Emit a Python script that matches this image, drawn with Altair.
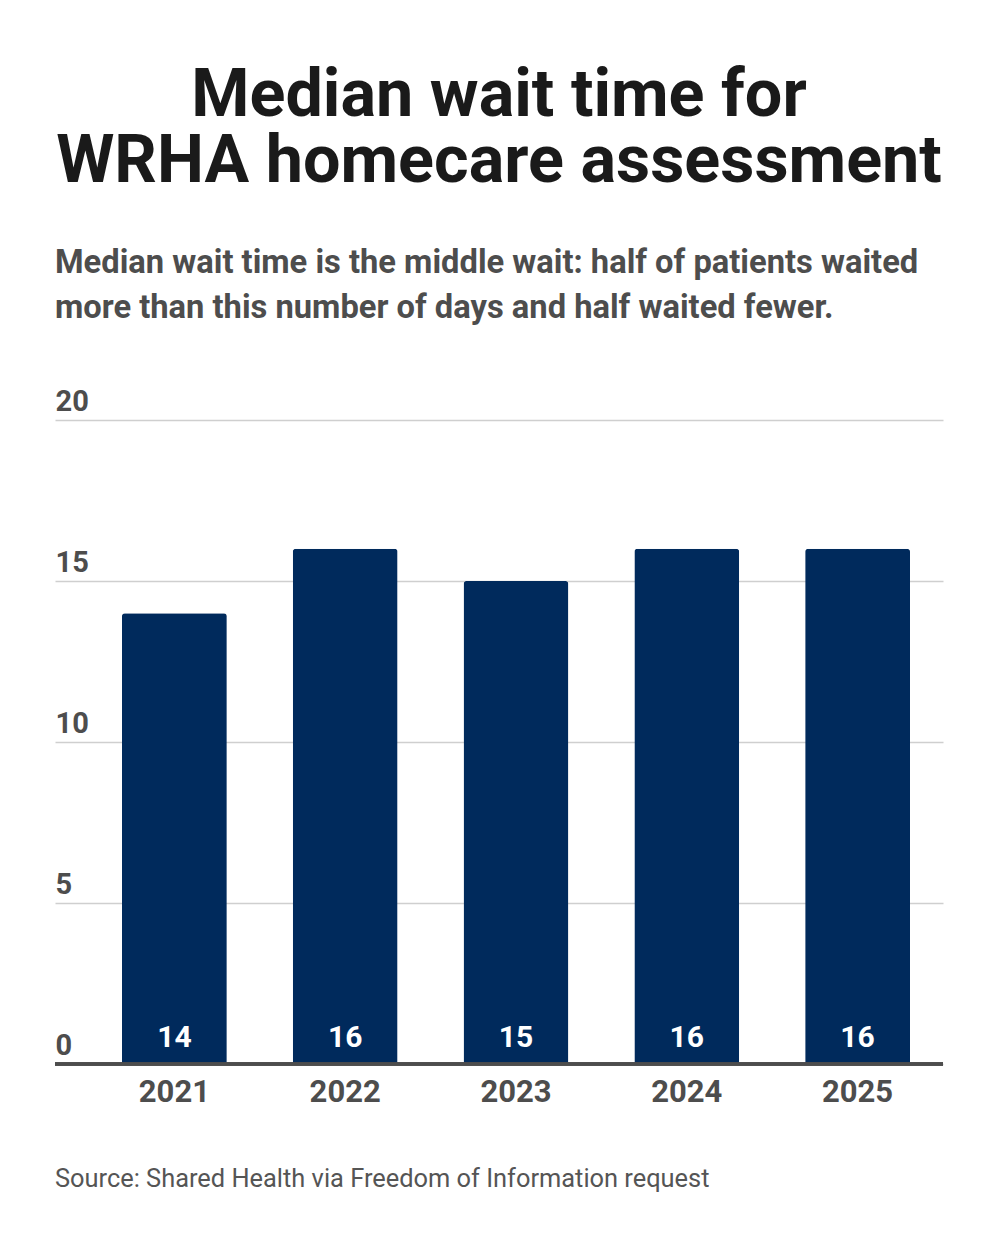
import altair as alt
import pandas as pd

years = ["2021", "2022", "2023", "2024", "2025"]
median_days = [14, 16, 15, 16, 16]
y_ticks = [0, 5, 10, 15, 20]

title_lines = ["Median wait time for", "WRHA homecare assessment"]
subtitle_text = ("Median wait time is the middle wait: half of patients waited\n"
                 "more than this number of days and half waited fewer.")
source_text = "Source: Shared Health via Freedom of Information request"

df = pd.DataFrame({"year": years, "days": median_days})

FONT = "Roboto"
NAVY = "#002a5c"
GRAY = "#4d4d4d"
W, H = 888, 644

x_enc = alt.X("year:N", sort=years,
              scale=alt.Scale(paddingInner=0.386, paddingOuter=0.2925, align=0.67),
              axis=alt.Axis(title=None, domain=False, ticks=False, labelAngle=0,
                            labelFont=FONT, labelFontSize=31, labelFontWeight="bold",
                            labelColor=GRAY, labelPadding=37, labelBaseline="alphabetic"))
y_enc = alt.Y("days:Q", scale=alt.Scale(domain=[0, 20], nice=False),
              axis=alt.Axis(title=None, values=y_ticks, domain=False, ticks=False,
                            grid=True, gridColor="#cfcfcf", gridWidth=1.5,
                            labelAlign="left", labelBaseline="alphabetic",
                            labelPadding=0, labelOffset=-10,
                            labelFont=FONT, labelFontSize=29, labelFontWeight="bold",
                            labelColor=GRAY))

base = alt.Chart(df)

bars = base.mark_bar(color=NAVY, cornerRadiusTopLeft=3, cornerRadiusTopRight=3).encode(
    x=x_enc, y=y_enc)

values = base.mark_text(color="white", font=FONT, fontSize=30, fontWeight="bold",
                        baseline="alphabetic", dy=-17).encode(
    x=alt.X("year:N", sort=years), y=alt.datum(0), text=alt.Text("days:Q"))

baseline_rule = base.mark_rule(color=GRAY, strokeWidth=3).encode(
    y=alt.datum(0), x=alt.value(0), x2=alt.value(W))

subtitle = alt.Chart(pd.DataFrame({"t": [subtitle_text]})).mark_text(
    align="left", baseline="alphabetic", font=FONT, fontSize=32.7, fontWeight="bold",
    color=GRAY, lineBreak="\n", lineHeight=45).encode(
    text="t:N", x=alt.value(0), y=alt.value(-147))

source = alt.Chart(pd.DataFrame({"t": [source_text]})).mark_text(
    align="left", baseline="alphabetic", font=FONT, fontSize=25.4, color="#555555").encode(
    text="t:N", x=alt.value(0), y=alt.value(767))

chart = alt.layer(bars, baseline_rule, values, subtitle, source).properties(
    width=W, height=H,
    background="white",
    title=alt.TitleParams(text=title_lines, anchor="middle", frame="group",
                          font=FONT, fontSize=66.5, fontWeight="bold", color="#1a1a1a",
                          lineHeight=66, offset=52),
    autosize=alt.AutoSizeParams(type="none"),
    padding={"left": 47, "top": 412, "right": 40, "bottom": 170},
).configure_view(stroke=None)

chart.save("out.html", embed_options={"renderer": "svg", "actions": False})
